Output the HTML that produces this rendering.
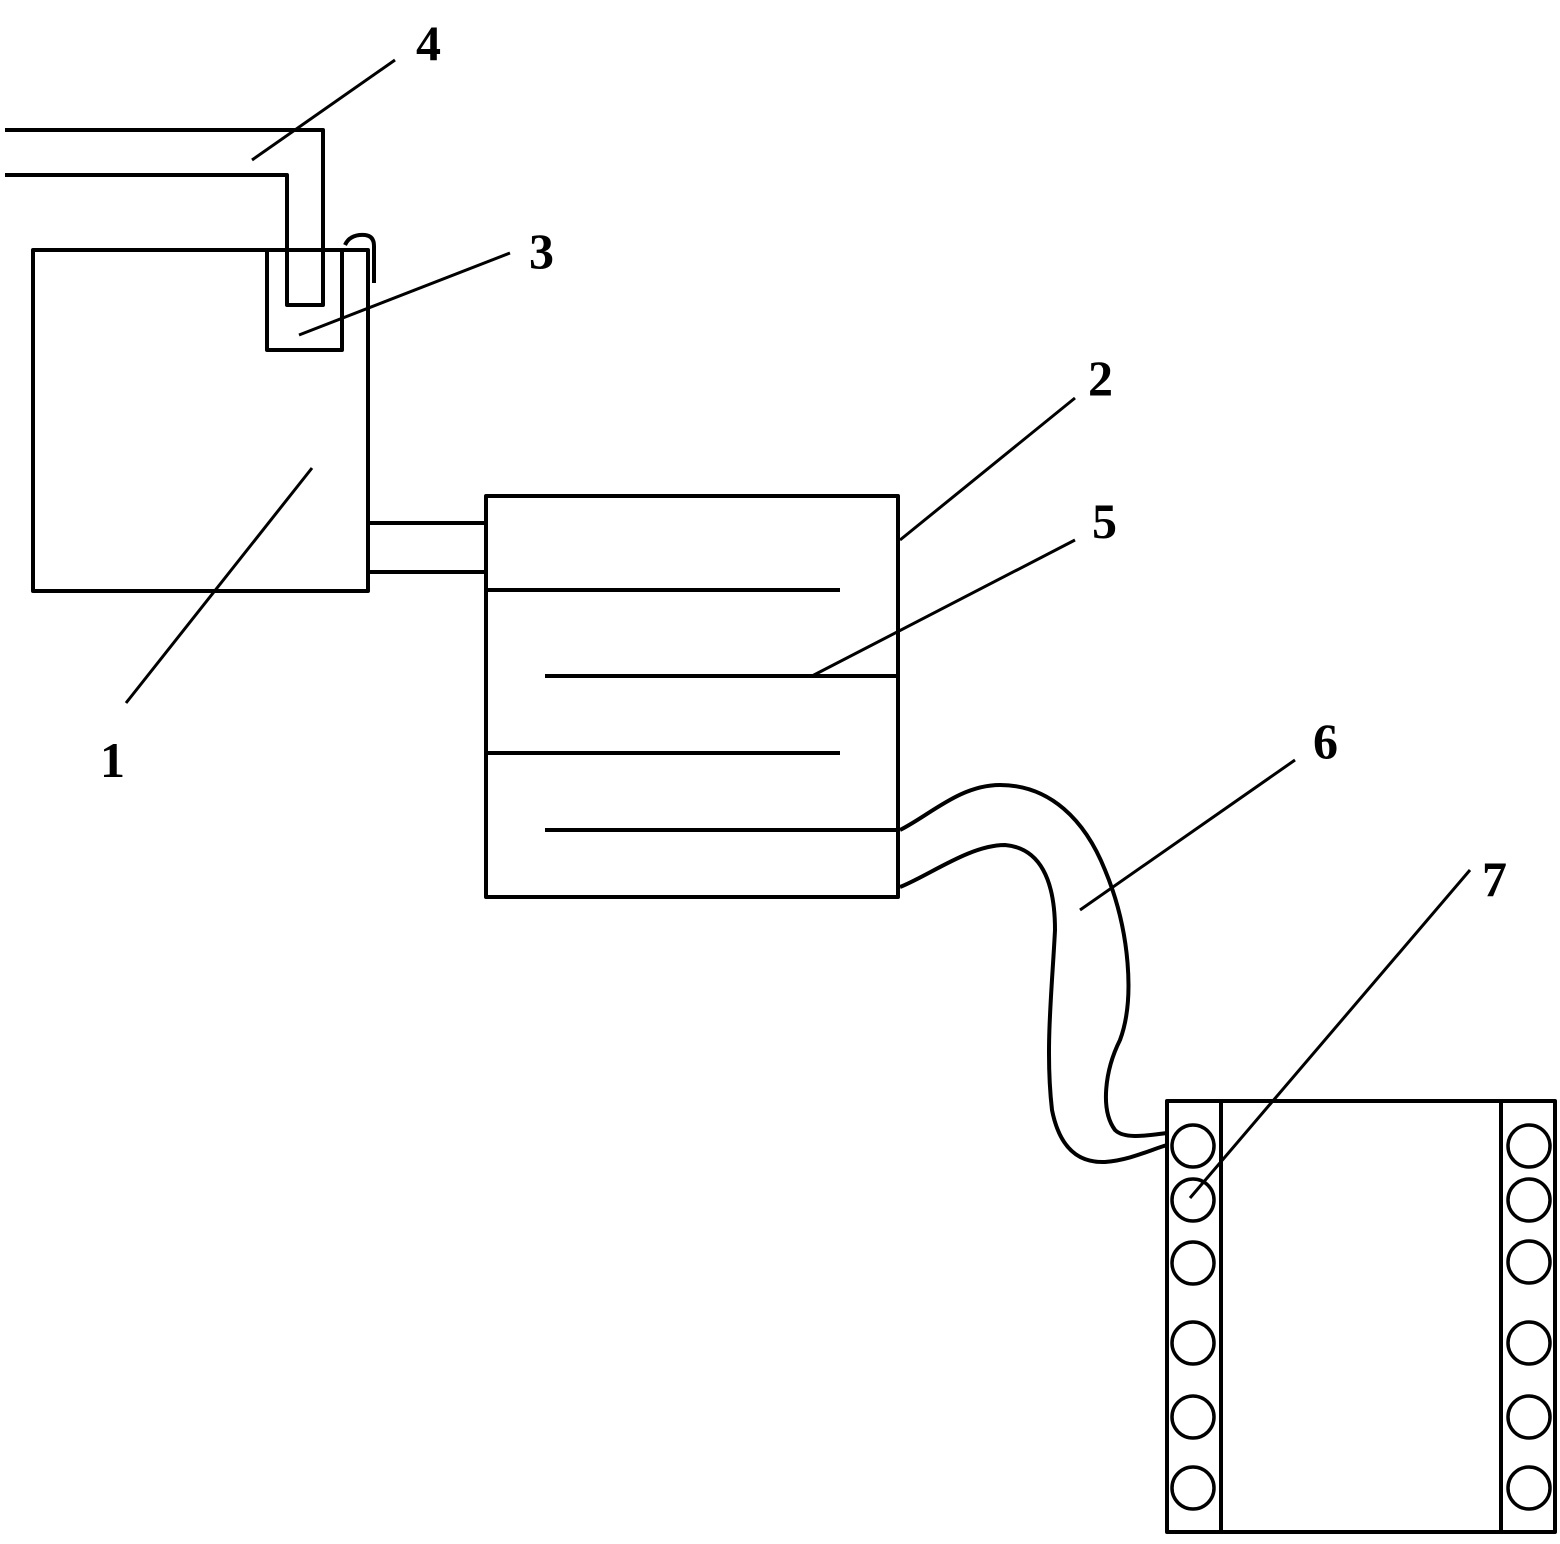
<!DOCTYPE html>
<html><head><style>body{margin:0;background:#fff}svg{display:block}</style></head><body>
<svg width="1560" height="1544" viewBox="0 0 1560 1544" xmlns="http://www.w3.org/2000/svg">
<g fill="none" stroke="#000" stroke-width="4" stroke-linejoin="round">
<rect x="33" y="250" width="335" height="341"/>
<rect x="267" y="250" width="75" height="100"/>
<path d="M5 130 H323 V305 H287 V175 H5"/>
<path d="M345 245 Q350 234 365 235 Q374 236 374 246 V283"/>
<path d="M368 523 H486 M368 572 H486"/>
<rect x="486" y="496" width="412" height="401"/>
<path d="M486 590 H840 M545 676 H898 M486 753 H840 M545 830 H898"/>
<path d="M900 830 C930 815 960 785 1000 785 C1050 785 1085 820 1105 870 C1130 930 1135 1000 1120 1040 C1105 1070 1100 1110 1115 1130 C1125 1140 1150 1135 1167 1133"/>
<path d="M900 887 C930 875 970 845 1005 845 C1040 848 1055 880 1055 930 C1052 990 1045 1050 1052 1110 C1060 1150 1080 1163 1105 1162 C1130 1160 1150 1150 1167 1145"/>
<rect x="1167" y="1101" width="388" height="431"/>
<path d="M1221 1101 V1532 M1501 1101 V1532"/>
<g stroke-width="3.5">
<circle cx="1193" cy="1146" r="21"/><circle cx="1193" cy="1200" r="21"/><circle cx="1193" cy="1263" r="21"/><circle cx="1193" cy="1343" r="21"/><circle cx="1193" cy="1417" r="21"/><circle cx="1193" cy="1488" r="21"/>
<circle cx="1529" cy="1146" r="21"/><circle cx="1529" cy="1200" r="21"/><circle cx="1529" cy="1262" r="21"/><circle cx="1529" cy="1343" r="21"/><circle cx="1529" cy="1417" r="21"/><circle cx="1529" cy="1488" r="21"/>
</g>
<g stroke-width="3">
<path d="M252 160 L395 60"/>
<path d="M299 335 L510 253"/>
<path d="M126 703 L312 468"/>
<path d="M900 540 L1075 398"/>
<path d="M812 676 L1075 540"/>
<path d="M1080 910 L1295 760"/>
<path d="M1190 1198 L1470 870"/>
</g>
</g>
<g font-family="Liberation Serif, serif" font-weight="bold" font-size="50" fill="#000">
<text x="416" y="60">4</text>
<text x="529" y="268">3</text>
<text x="100" y="777">1</text>
<text x="1088" y="395">2</text>
<text x="1092" y="538">5</text>
<text x="1313" y="758">6</text>
<text x="1482" y="896">7</text>
</g>
</svg>
</body></html>
